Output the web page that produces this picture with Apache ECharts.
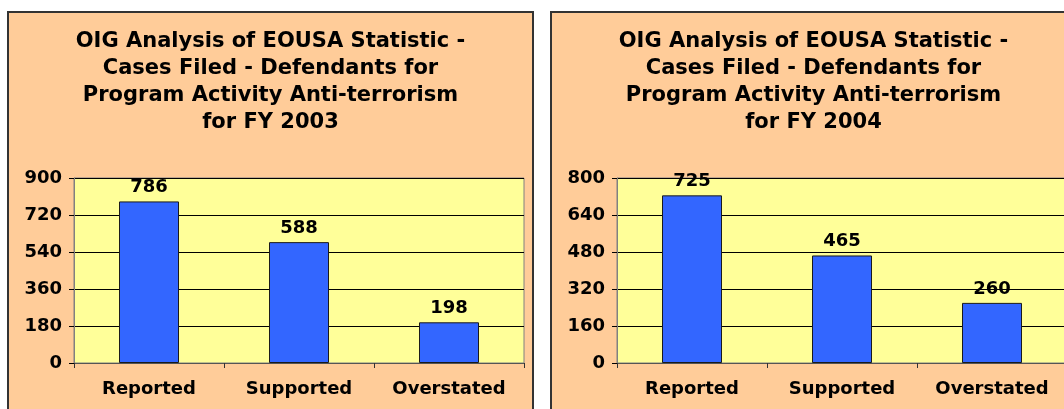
<!DOCTYPE html>
<html>
<head>
<meta charset="utf-8">
<script src="https://cdn.jsdelivr.net/npm/echarts@6/dist/echarts.min.js"></script>
<style>
  html, body { margin: 0; padding: 0; background: #fff; overflow: hidden; }
  #wrap { position: relative; width: 1064px; height: 409px; overflow: hidden; }
  .panel {
    position: absolute; top: 11px; width: 527px; height: 420px;
    box-sizing: border-box; border: 2px solid #333; background: #FFCC99;
  }
  .chart { width: 523px; height: 416px; }
</style>
</head>
<body>
<div id="wrap">
  <div class="panel" style="left:7px"><div class="chart" id="chart2003"></div></div>
  <div class="panel" style="left:550px"><div class="chart" id="chart2004"></div></div>
</div>
<script>
// categories shared by both charts
const categories = ['Reported', 'Supported', 'Overstated'];

// FY 2003
const title2003 = 'OIG Analysis of EOUSA Statistic -\nCases Filed - Defendants for\nProgram Activity Anti-terrorism\nfor FY 2003';
const values2003 = [786, 588, 198];
const yMax2003 = 900;
const yStep2003 = 180;

// FY 2004
const title2004 = 'OIG Analysis of EOUSA Statistic -\nCases Filed - Defendants for\nProgram Activity Anti-terrorism\nfor FY 2004';
const values2004 = [725, 465, 260];
const yMax2004 = 800;
const yStep2004 = 160;

const font = 'DejaVu Sans';

function makeOption(titleText, values, yMax, yStep) {
  return {
    animation: false,
    textStyle: { fontFamily: font },
    title: {
      text: titleText,
      left: 'center',
      top: 15,
      padding: 0,
      textStyle: {
        fontFamily: font,
        fontSize: 21,
        fontWeight: 'bold',
        color: '#000',
        lineHeight: 27
      }
    },
    grid: {
      left: 65,
      right: 8,
      top: 165,
      height: 185,
      show: true,
      backgroundColor: '#FFFF99',
      borderColor: '#808080',
      borderWidth: 1
    },
    xAxis: {
      type: 'category',
      data: categories,
      axisLine: { show: true, lineStyle: { color: '#555', width: 1 } },
      axisTick: { show: true, alignWithLabel: false, length: 5, lineStyle: { color: '#333' } },
      axisLabel: {
        color: '#000',
        fontFamily: font,
        fontSize: 18,
        fontWeight: 'bold',
        margin: 17
      }
    },
    yAxis: {
      type: 'value',
      min: 0,
      max: yMax,
      interval: yStep,
      axisLine: { show: true, lineStyle: { color: '#808080' } },
      axisTick: { show: true, length: 5, lineStyle: { color: '#000' } },
      splitLine: { show: true, lineStyle: { color: '#000', width: 1 } },
      axisLabel: {
        color: '#000',
        fontFamily: font,
        fontSize: 18,
        fontWeight: 'bold',
        margin: 12
      }
    },
    series: [
      {
        type: 'bar',
        data: values,
        barWidth: '40%',
        itemStyle: {
          color: '#3366FF',
          borderColor: '#1a1a1a',
          borderWidth: 1
        },
        label: {
          show: true,
          position: 'top',
          distance: 5,
          color: '#000',
          fontFamily: font,
          fontSize: 18,
          fontWeight: 'bold'
        }
      }
    ]
  };
}

const chartA = echarts.init(document.getElementById('chart2003'));
chartA.setOption(makeOption(title2003, values2003, yMax2003, yStep2003));

const chartB = echarts.init(document.getElementById('chart2004'));
chartB.setOption(makeOption(title2004, values2004, yMax2004, yStep2004));
</script>
</body>
</html>
